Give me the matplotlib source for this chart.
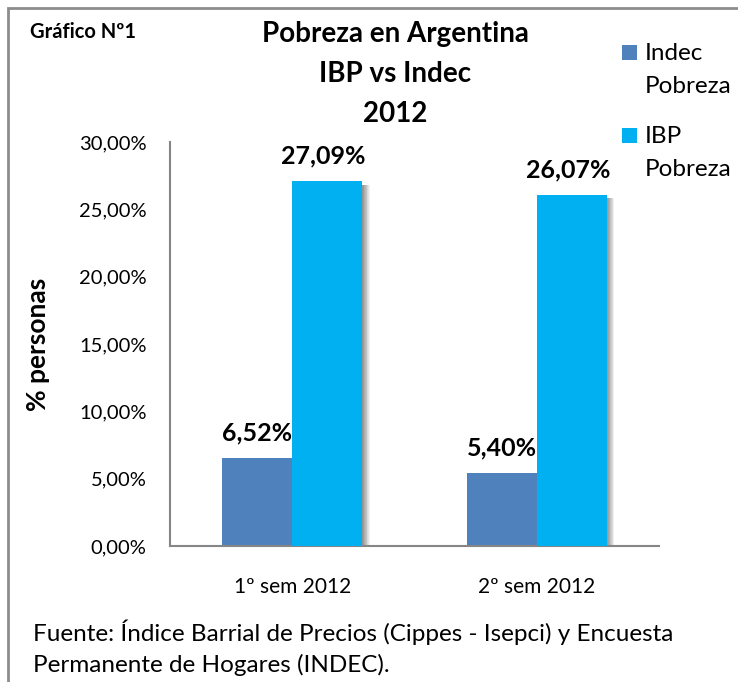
import numpy as np
import matplotlib.pyplot as plt
from matplotlib.patches import Rectangle

plt.rcParams['font.family'] = ['Lato', 'DejaVu Sans']

categories = ['1º sem 2012', '2º sem 2012']
indec_pobreza = [6.52, 5.40]
ibp_pobreza = [27.09, 26.07]
series_names = ['Indec\nPobreza', 'IBP\nPobreza']
y_ticks = [0, 5, 10, 15, 20, 25, 30]

col_indec = '#4F81BD'
col_ibp = '#00B0F0'

fig = plt.figure(figsize=(7.38, 6.82), dpi=100)
W, H = 738, 682

# outer frame of the chart
fig.patches.append(Rectangle((8 / W, -0.1), 1.2, 1 - 8 / H + 0.1, transform=fig.transFigure,
                             fill=False, edgecolor='#8c8c8c', linewidth=2, zorder=0))

ax = fig.add_axes([170 / W, 1 - 546 / H, (659 - 170) / W, (546 - 142) / H])

x = np.arange(len(categories))
bw = 0.286

# soft shadow on the right side of the bars
for k in range(10):
    off = 0.003 * (k + 1)
    ax.bar(x + bw / 2 + off, np.array(ibp_pobreza) - 0.25, bw, color='black', alpha=0.05,
           zorder=1, linewidth=0)

ax.bar(x - bw / 2, indec_pobreza, bw, color=col_indec, zorder=2, linewidth=0)
ax.bar(x + bw / 2, ibp_pobreza, bw, color=col_ibp, zorder=3, linewidth=0)

for xi, v in zip(x, indec_pobreza):
    ax.annotate(f'{v:.2f}%'.replace('.', ','), (xi - bw / 2, v), xytext=(0, 10),
                textcoords='offset points', ha='center', va='bottom',
                fontsize=18, fontweight='bold')
for xi, v in zip(x, ibp_pobreza):
    ax.annotate(f'{v:.2f}%'.replace('.', ','), (xi + bw / 2 - 0.015, v), xytext=(0, 10),
                textcoords='offset points', ha='center', va='bottom',
                fontsize=18, fontweight='bold')

ax.set_xlim(-0.5, 1.5)
ax.set_ylim(0, 30)
ax.set_yticks(y_ticks)
ax.set_yticklabels([f'{t:.2f}%'.replace('.', ',') for t in y_ticks], fontsize=14.5)
ax.set_xticks(x)
ax.set_xticklabels(categories, fontsize=15)
ax.tick_params(length=0)
ax.tick_params(axis='y', pad=17)
ax.tick_params(axis='x', pad=22)
for s in ['top', 'right']:
    ax.spines[s].set_visible(False)
for s in ['left', 'bottom']:
    ax.spines[s].set_color('#868686')
    ax.spines[s].set_linewidth(1.5)

fig.text(38 / W, 1 - 344 / H, '% personas', rotation=90, ha='center', va='center',
         fontsize=19, fontweight='bold')

fig.text(30 / W, 1 - 32 / H, 'Gráfico Nº1', ha='left', va='center', fontsize=14.5, fontweight='bold')
fig.text(395 / W, 1 - 74 / H, 'Pobreza en Argentina\nIBP vs Indec\n2012', ha='center', va='center',
         fontsize=20, fontweight='bold', linespacing=1.65)

# legend: square next to the first line of each two-line label (like Excel)
leg_rows = [(col_indec, 45, 70), (col_ibp, 128, 153)]
for (c, sq_top, txt_mid), name in zip(leg_rows, series_names):
    fig.patches.append(Rectangle((622 / W, 1 - (sq_top + 15) / H), 15 / W, 15 / H,
                                 transform=fig.transFigure, color=c, linewidth=0))
    fig.text(645 / W, 1 - txt_mid / H, name, ha='left', va='center', fontsize=17.5,
             linespacing=1.7)

fig.text(33 / W, 1 - 648 / H,
         'Fuente: Índice Barrial de Precios (Cippes - Isepci) y Encuesta\nPermanente de Hogares (INDEC).',
         ha='left', va='center', fontsize=17.5, linespacing=1.5)

fig.savefig('out.png', dpi=100)
